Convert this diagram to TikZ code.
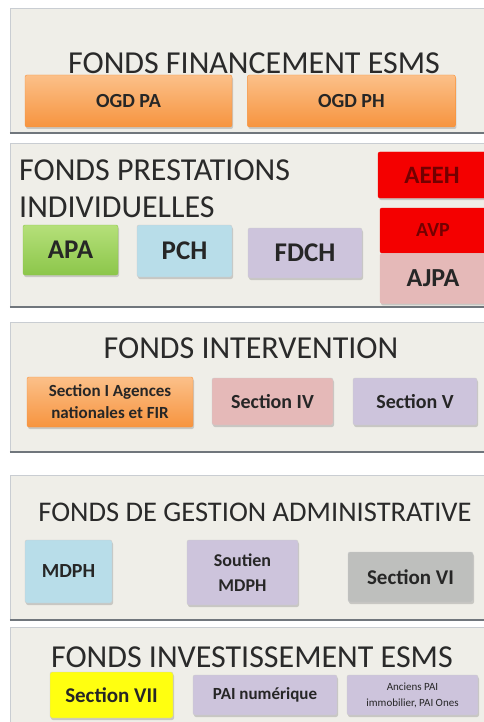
\documentclass[tikz,border=0pt]{standalone}
\usepackage{fontspec}
\setmainfont{Carlito}
\usetikzlibrary{positioning,shadows}

\definecolor{fondpan}{HTML}{EFEEE8}
\definecolor{traitpan}{HTML}{C9CDD2}
\definecolor{traitbas}{HTML}{70767C}
\definecolor{titregris}{HTML}{2A2A2A}
\definecolor{orangeh}{HTML}{FBC089}
\definecolor{orangeb}{HTML}{F7943F}
\definecolor{vertclair}{HTML}{B5E07A}
\definecolor{vertfonce}{HTML}{8CC64A}
\definecolor{bleuclair}{HTML}{B8DDE9}
\definecolor{lavande}{HTML}{CDC4DC}
\definecolor{rose}{HTML}{E5B9B8}
\definecolor{rouge}{HTML}{F40000}
\definecolor{grisbox}{HTML}{BEBFBD}
\definecolor{jaune}{HTML}{FFFF10}

\tikzset{
  panneau/.style={draw=traitpan,fill=fondpan,rectangle,inner sep=0pt},
  titre/.style={font=\fontsize{32}{37}\selectfont,text=titregris,inner sep=0pt},
  case/.style={rectangle,rounded corners=2pt,draw=black!20,inner sep=1pt,
    align=center,text=black!85,font=\bfseries\fontsize{20}{24}\selectfont,
    drop shadow={shadow xshift=1pt,shadow yshift=-2pt,opacity=0.35}},
  orangebox/.style={case,top color=orangeh,bottom color=orangeb,draw=orangeb}
}

\begin{document}
\begin{tikzpicture}[x=1pt,y=-1pt]
  \useasboundingbox[fill=white] (0,0) rectangle (483,722);

  % les cinq panneaux
  \node[panneau,minimum width=478pt,minimum height=125pt] (p1) at (249,70.5){};
  \node[panneau,minimum width=478pt,minimum height=164pt] (p2) at (249,225){};
  \node[panneau,minimum width=478pt,minimum height=130pt] (p3) at (249,387){};
  \node[panneau,minimum width=478pt,minimum height=145pt] (p4) at (249,547.5){};
  \node[panneau,minimum width=478pt,minimum height=100pt] (p5) at (249,677){};
  \draw[traitbas,line width=1.5pt](p1.south west)--(p1.south east)
       (p2.south west)--(p2.south east)
       (p3.south west)--(p3.south east)
       (p4.south west)--(p4.south east);

  % fonds financement
  \node[titre] (t1) at (254,63){FONDS FINANCEMENT ESMS};
  \node[orangebox,minimum width=207pt,minimum height=52pt] (ogdpa) at (128.5,101){OGD PA};
  \node[orangebox,minimum width=208pt,minimum height=52pt] (ogdph)[right=15pt of ogdpa]{OGD PH};

  % fonds prestations
  \node[titre,anchor=west,align=left] (t2) at (19,188.5){FONDS PRESTATIONS\\INDIVIDUELLES};
  \node[case,top color=vertclair,bottom color=vertfonce,draw=vertfonce,
        minimum width=95pt,minimum height=50pt,font=\bfseries\fontsize{27}{30}\selectfont] (apa) at (70.5,250){APA};
  \node[case,fill=bleuclair,minimum width=95pt,minimum height=52pt,
        font=\bfseries\fontsize{27}{30}\selectfont] (pch) at (184.5,251){PCH};
  \node[case,fill=lavande,minimum width=114pt,minimum height=50pt,
        font=\bfseries\fontsize{27}{30}\selectfont] (fdch) at (305,253){FDCH};
  \node[case,fill=rouge,draw=rouge,text=red!45!black,minimum width=108pt,minimum height=46pt,
        font=\bfseries\fontsize{25}{30}\selectfont] (aeeh) at (432,175){AEEH};
  \node[case,fill=rouge,draw=rouge,text=red!45!black,minimum width=106pt,minimum height=45pt,
        font=\bfseries\fontsize{20}{24}\selectfont] (avp) at (433,230.5){AVP};
  \node[case,fill=rose,draw=rose,minimum width=106pt,minimum height=50pt,
        font=\bfseries\fontsize{26}{30}\selectfont] (ajpa)[below=0pt of avp]{AJPA};

  % fonds intervention
  \node[titre] (t3) at (251,348){FONDS INTERVENTION};
  \node[orangebox,minimum width=166pt,minimum height=50pt,
        font=\bfseries\fontsize{17}{22}\selectfont] (sec1) at (110,402){Section I Agences\\nationales et FIR};
  \node[case,fill=rose,minimum width=121pt,minimum height=47pt] (sec4) at (272.5,401.5){Section IV};
  \node[case,fill=lavande,minimum width=124pt,minimum height=47pt] (sec5) at (415,401.5){Section V};

  % fonds de gestion administrative
  \node[titre,font=\fontsize{28.5}{34}\selectfont] (t4) at (255,512){FONDS DE GESTION ADMINISTRATIVE};
  \node[case,fill=bleuclair,minimum width=87pt,minimum height=63pt] (mdph) at (68.5,571.5){MDPH};
  \node[case,fill=lavande,minimum width=111pt,minimum height=65pt,
        font=\bfseries\fontsize{18}{25}\selectfont] (soutien) at (242.5,572.5){Soutien\\MDPH};
  \node[case,fill=grisbox,minimum width=125pt,minimum height=50pt,
        font=\bfseries\fontsize{21}{24}\selectfont] (sec6) at (410.5,577){Section VI};

  % fonds investissement
  \node[titre] (t5) at (252,657){FONDS INVESTISSEMENT ESMS};
  \node[case,fill=jaune,minimum width=123pt,minimum height=46pt,
        font=\bfseries\fontsize{21}{24}\selectfont] (sec7) at (111.5,695){Section VII};
  \node[case,fill=lavande,minimum width=144pt,minimum height=40pt,
        font=\bfseries\fontsize{17}{20}\selectfont] (painum) at (265,695){PAI numérique};
  \node[case,fill=lavande,minimum width=131pt,minimum height=40pt,
        font=\fontsize{11}{16}\selectfont] (anciens) at (412.5,695){Anciens PAI\\immobilier, PAI Ones};
\end{tikzpicture}
\end{document}
